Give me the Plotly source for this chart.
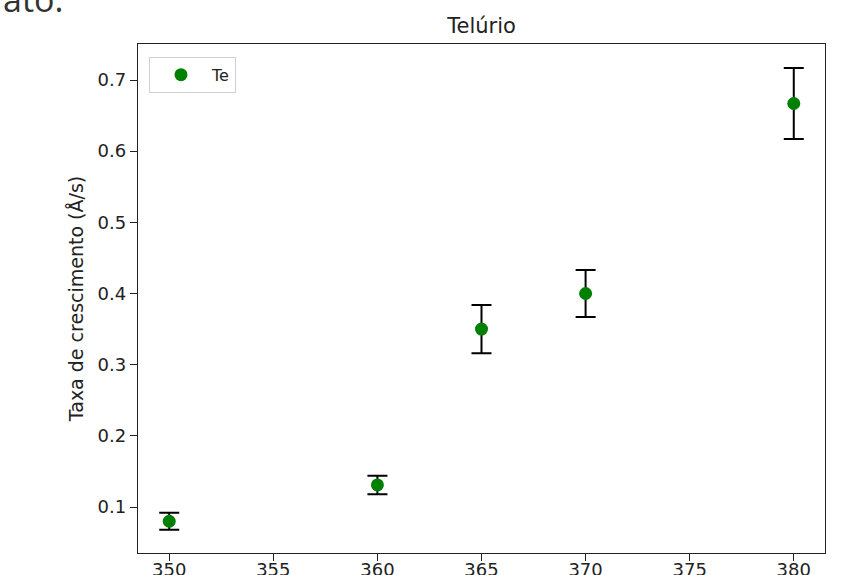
import plotly.graph_objects as go

temperatura = [350, 360, 365, 370, 380]
taxa = [0.080, 0.131, 0.350, 0.400, 0.667]
erro = [0.012, 0.013, 0.034, 0.033, 0.050]
x_ticks = [350, 355, 360, 365, 370, 375, 380]
y_ticks = [0.1, 0.2, 0.3, 0.4, 0.5, 0.6, 0.7]

FONT = "DejaVu Sans"

fig = go.Figure()
fig.add_trace(go.Scatter(
    x=temperatura, y=taxa, mode="markers", name="Te",
    marker=dict(color="#008000", size=13),
    error_y=dict(type="data", array=erro, visible=True, color="black",
                 thickness=2, width=10),
))

axis_common = dict(showline=True, linecolor="#222", linewidth=1.3, mirror=True,
                   ticks="outside", ticklen=7, tickwidth=1.3, tickcolor="#222",
                   showgrid=False, zeroline=False, automargin=False,
                   tickfont=dict(family=FONT, size=18, color="#222"))

fig.update_layout(
    width=850, height=575,
    margin=dict(l=138, r=25, t=44, b=22),
    paper_bgcolor="white", plot_bgcolor="white",
    title=dict(text="Telúrio", x=0.5666, xanchor="center", y=0.955, yanchor="middle",
               font=dict(family=FONT, size=21, color="#222")),
    xaxis=dict(range=[348.5, 381.5], tickvals=x_ticks, ticklabelstandoff=-7,
               **axis_common),
    yaxis=dict(range=[0.0354, 0.7506], tickvals=y_ticks,
               tickformat=".1f",
               title=dict(text="Taxa de crescimento (Å/s)", standoff=8,
                          font=dict(family=FONT, size=19, color="#222")),
               **axis_common),
    legend=dict(x=0.016, y=0.975, xanchor="left", yanchor="top",
                bgcolor="white", bordercolor="#d0d0d0", borderwidth=1,
                itemwidth=52,
                font=dict(family=FONT, size=16, color="#222")),
    showlegend=True,
)

fig.add_annotation(text="ato:", xref="paper", yref="paper", x=-0.2, y=1.0 + 20/509,
                   xanchor="left", yanchor="bottom", showarrow=False,
                   font=dict(family="Open Sans", size=34, color="#333"))

fig.write_html("out.html")
